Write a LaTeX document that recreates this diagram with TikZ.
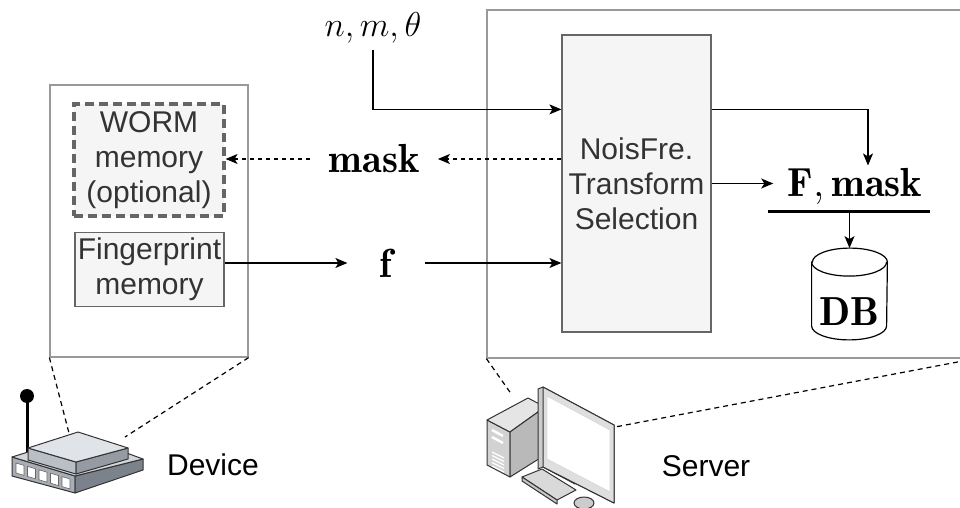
\documentclass[tikz,border=0pt]{standalone}
\usepackage{fontspec}
\setsansfont{Liberation Sans}
\usetikzlibrary{arrows.meta}
\definecolor{boxfill}{HTML}{F5F5F5}
\definecolor{boxline}{HTML}{666666}
\definecolor{txt}{HTML}{333333}
\definecolor{devtop}{HTML}{D3D7DD}
\definecolor{devside}{HTML}{A9AEB6}
\definecolor{devdark}{HTML}{7C828C}

\begin{document}
\begin{tikzpicture}[x=0.5pt,y=-0.5pt,
  frame/.style={draw=gray!80,line width=0.6pt},
  blk/.style={draw=boxline,fill=boxfill,line width=0.6pt,font=\sffamily\fontsize{15}{17.5}\selectfont,
    text=txt,align=center,inner sep=0pt},
  lbl/.style={font=\fontsize{20.3}{24}\selectfont,inner sep=1pt},
  arr/.style={-{Stealth[length=6pt,width=5pt,inset=1.5pt]},line width=0.6pt},
  dotarr/.style={arr,dash pattern=on 2pt off 2pt},
  zoomline/.style={dash pattern=on 2.5pt off 2pt,line width=0.6pt},
  part/.style={draw=black!80,line width=0.5pt,line join=round}]
\clip (0,0) rectangle (960,508);

% device side
\node[frame,minimum width=99pt,minimum height=136pt] (dev) at (149,221) {};
\node[blk,draw=boxline,dash pattern=on 4.5pt off 2.5pt,line width=1.6pt,
  minimum width=75pt,minimum height=56pt] (worm) at (149,160) {WORM\\memory\\(optional)};
\node[blk,minimum width=74.5pt,minimum height=37pt] (fp) at (149.5,269.5) {Fingerprint\\memory};

% server side
\node[frame,minimum width=244pt,minimum height=174pt] (srv) at (731,184) {};
\node[blk,minimum width=74.5pt,minimum height=148.5pt] (nf) at (636.5,183.5) {NoisFre.\\Transform\\Selection};

\node[lbl,font=\fontsize{18.5}{22}\selectfont,inner ysep=3pt] (params) at (373,28) {$n, m, \theta$};
\node[lbl,inner xsep=9pt] (mask) at (374,159) {$\mathbf{mask}$};
\node[lbl,inner xsep=16pt] (f) at (386,263) {$\mathbf{f}$};
\node[lbl,inner xsep=7pt] (fm) at (855,186) {$\mathbf{F}, \mathbf{mask}$};
\coordinate (barl) at (768,212);
\coordinate (barr) at (930,212);
\draw[line width=1.5pt] (barl) -- (barr);

% database drum
\node[minimum width=37.5pt,minimum height=45.5pt,inner sep=0pt] (db) at (849.5,294) {};
\draw[fill=white,line width=0.6pt] ([yshift=-7pt]db.north west) -- ([yshift=7pt]db.south west)
  arc[start angle=180,end angle=360,x radius=18.75pt,y radius=7pt]
  -- ([yshift=-7pt]db.north east)
  arc[start angle=0,end angle=180,x radius=18.75pt,y radius=7pt] -- cycle;
\draw[line width=0.6pt] ([yshift=-7pt]db.north west)
  arc[start angle=180,end angle=360,x radius=18.75pt,y radius=7pt];
\node[lbl] (dbtxt) at ([yshift=-9pt]db.center) {$\mathbf{DB}$};

\draw[arr] (params.south) |- ([yshift=-37.5pt]nf.north west);
\draw[arr] ([yshift=-37.5pt]nf.north east) -| ([xshift=6.5pt]fm.north);
\draw[arr] (nf.east) -- (nf.east -| fm.west);
\draw[arr] (db.north |- barl) -- (db.north);
\draw[dotarr] (nf.west |- mask) -- (mask.east);
\draw[dotarr] (mask.west) -- (worm.east |- mask);
\draw[arr] (fp.east |- f) -- (f.west);
\draw[arr] (f.east) -- (nf.west |- f);

% zoom lines down to the icons
\coordinate (rtl) at (70,437);
\coordinate (rtr) at (125,437);
\coordinate (pcl) at (512,395);
\coordinate (pcr) at (615,427);
\draw[zoomline] (dev.south west) -- (rtl);
\draw[zoomline] (dev.south east) -- (rtr);
\draw[zoomline] (srv.south west) -- (pcl);
\draw[zoomline] (srv.south east) -- (pcr);

% router
\draw[line width=1.5pt] (27,396) -- (27,458);
\fill (27,396) circle (3.5pt);
\draw[part,fill=devside] (12,457) -- (75,476) -- (75,493) -- (12,476) -- cycle;
\draw[part,fill=devdark] (75,476) -- (143,459) -- (143,470) -- (75,493) -- cycle;
\draw[part,fill=devtop] (12,457) -- (80,436) -- (143,459) -- (75,476) -- cycle;
\draw[part,fill=devside!80] (28,448) -- (76,462) -- (76,474) -- (28,460) -- cycle;
\draw[part,fill=devdark!80] (76,462) -- (128,448) -- (128,459) -- (76,474) -- cycle;
\draw[part,fill=devtop!70] (28,448) -- (78,432) -- (128,448) -- (76,462) -- cycle;
\foreach \i in {0,...,4}
  \draw[black!60,fill=white,line width=0.3pt]
    (16+\i*11.5,463+\i*3.4) -- (24+\i*11.5,465.4+\i*3.4) -- (24+\i*11.5,475.4+\i*3.4) -- (16+\i*11.5,473+\i*3.4) -- cycle;
\node[font=\sffamily\fontsize{15}{17.5}\selectfont] (devlbl) at (213,465) {Device};

% computer
\draw[part,fill=gray!35] (487,420) -- (510,432) -- (510,477) -- (487,465) -- cycle;
\draw[part,fill=gray!20] (487,420) -- (528,398) -- (545,407) -- (510,432) -- cycle;
\draw[part,fill=gray!55] (510,432) -- (545,407) -- (545,455) -- (510,477) -- cycle;
\foreach \i in {0,1}
  \draw[white,line width=1.2pt] (492,430+\i*7) -- (503,436+\i*7);
\foreach \i in {0,...,4}
  \draw[white,line width=0.6pt] (492,452+\i*3.5) -- (504,458+\i*3.5);
\draw[part,fill=gray!50] (545,460) -- (575,476) -- (575,484) -- (545,468) -- cycle;
\draw[part,fill=gray!40] (538,389) -- (543,387) -- (614,425) -- (614,503) -- (543,467) -- (538,469) -- cycle;
\draw[part,fill=gray!25] (543,387) -- (614,425) -- (614,503) -- (543,467) -- cycle;
\draw[gray!30,fill=white] (547,396) -- (610,430) -- (610,492) -- (547,459) -- cycle;
\draw[part,fill=gray!30] (522,477) -- (542,469) -- (576,490) -- (557,500) -- cycle;
\draw[part,fill=gray!45] (522,477) -- (557,500) -- (557,504) -- (522,481) -- cycle;
\draw[part,fill=gray!40] (584,503) ellipse (5pt and 3pt);
\node[font=\sffamily\fontsize{15}{17.5}\selectfont] (srvlbl) at (706,466) {Server};
\end{tikzpicture}
\end{document}
